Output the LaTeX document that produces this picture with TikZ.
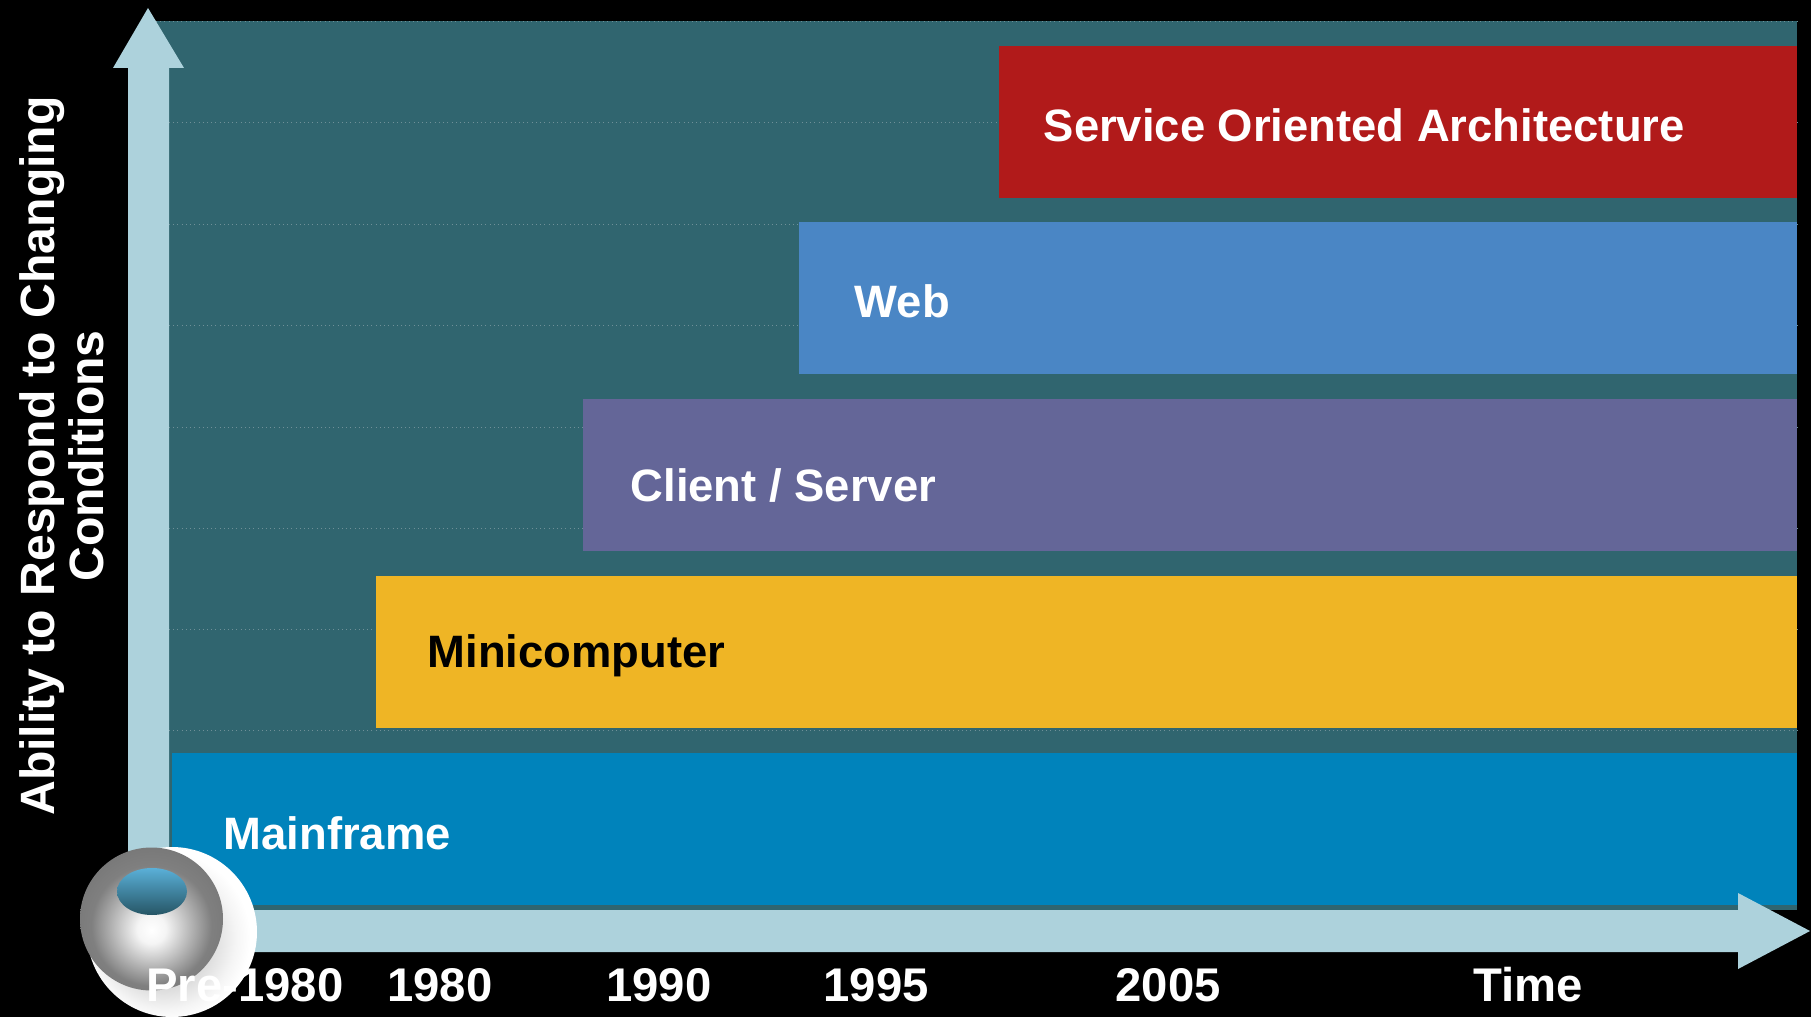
\documentclass[tikz,border=0pt]{standalone}
\usepackage{fontspec}
\setmainfont{Liberation Sans}
\usepackage{xcolor}
\usepackage{tikz}
\usetikzlibrary{positioning,scopes}
\definecolor{plate}{HTML}{30656F}
\definecolor{gridgray}{HTML}{6F9098}
\definecolor{axisblue}{HTML}{ADD2DC}
\definecolor{soared}{HTML}{B11A1A}
\definecolor{webblue}{HTML}{4A86C5}
\definecolor{clientviolet}{HTML}{646698}
\definecolor{miniyellow}{HTML}{EFB525}
\definecolor{mainblue}{HTML}{0083BB}
\definecolor{eyetop}{HTML}{5AB0D8}
\definecolor{eyebottom}{HTML}{265565}
\pgfdeclareradialshading{ballshade}{\pgfpoint{0bp}{-4bp}}{%
  color(0bp)=(white); color(5bp)=(white!96!black); color(14bp)=(black!30);
  color(21bp)=(black!50); color(30bp)=(black!54); color(50bp)=(black!54)}
\pgfdeclareradialshading{discshade}{\pgfpoint{-4bp}{-3bp}}{%
  color(0bp)=(black!20); color(15bp)=(black!13); color(21bp)=(black!4);
  color(25bp)=(white); color(50bp)=(white)}
\begin{document}
\begin{tikzpicture}[x=1cm,y=-1cm,
      band/.style={rectangle,anchor=north east,minimum height=1.52cm,inner sep=0pt,outer sep=0pt},
      bandtext/.style={right,inner sep=0pt,font=\fontsize{12.92}{15}\selectfont\bfseries,text=white},
      year/.style={anchor=base,inner sep=0pt,font=\fontsize{13.45}{15}\selectfont\bfseries,text=white},
      ytitle/.style={rotate=90,align=center,inner sep=0pt,font=\fontsize{13.7}{13.8}\selectfont\bfseries,text=white},
      gridline/.style={gridgray,densely dotted,line width=0.2pt}
]
      \useasboundingbox (0,0) rectangle (18.11,10.17);
      \fill[black] (0,0) rectangle (18.11,10.17);
      \fill[plate] (1.56,0.21) rectangle (17.97,9.10);
      \draw[gridline] (1.56,0.21) -- (17.97,0.21);
      \foreach \y in {1.22,2.24,3.25,4.27,5.28,6.29,7.30}
          \draw[gridline] (1.69,\y) -- (17.97,\y);
      % bands, top to bottom
      \node[band,fill=soared,minimum width=7.98cm] at (17.97,0.46) (soa) {};
      \node[band,fill=webblue,minimum width=9.98cm] at (17.97,2.22) (web) {};
      \node[band,fill=clientviolet,minimum width=12.14cm] at (17.97,3.99) (client) {};
      \node[band,fill=miniyellow,minimum width=14.21cm] at (17.97,5.76) (mini) {};
      \node[band,fill=mainblue,minimum width=16.25cm] at (17.97,7.53) (main) {};
      % axes
      \fill[axisblue] (1.28,8.70) -- (1.28,0.68) -- (1.13,0.68) -- (1.48,0.08)
          -- (1.84,0.68) -- (1.69,0.68) -- (1.69,8.70) -- cycle;
      \fill[axisblue] (2.00,9.10) -- (17.38,9.10) -- (17.38,8.93) -- (18.10,9.31)
          -- (17.38,9.69) -- (17.38,9.52) -- (2.00,9.52) -- cycle;
      % ball
      \shade[shading=discshade] (1.72,9.32) circle (0.85);
      \shade[shading=ballshade] (1.515,9.19) circle (0.715);
      \shade[top color=eyetop,bottom color=eyebottom] (1.52,8.915) ellipse (0.35 and 0.235);
      % band labels
      \node[bandtext] at ([xshift=0.44cm,yshift=-0.03cm]soa.west) (soatext) {Service Oriented Architecture};
      \node[bandtext] at ([xshift=0.55cm,yshift=-0.03cm]web.west) (webtext) {Web};
      \node[bandtext] at ([xshift=0.47cm,yshift=-0.11cm]client.west) (clienttext) {Client / Server};
      \node[bandtext,text=black] at ([xshift=0.51cm,yshift=-0.04cm]mini.west) (minitext) {Minicomputer};
      \node[bandtext] at ([xshift=0.51cm,yshift=-0.04cm]main.west) (maintext) {Mainframe};
      % years
      \node[year] at (2.45,10.01) (pre) {Pre-1980};
      \node[year] at (4.40,10.01) (y80) {1980};
      \node[year] at (6.59,10.01) (y90) {1990};
      \node[year] at (8.76,10.01) (y95) {1995};
      \node[year] at (11.68,10.01) (y05) {2005};
      \node[year] at (15.28,10.01) (time) {Time};
      \node[ytitle] at (0.62,4.56) (ability) {Ability to Respond to Changing\\Conditions};
\end{tikzpicture}
\end{document}
